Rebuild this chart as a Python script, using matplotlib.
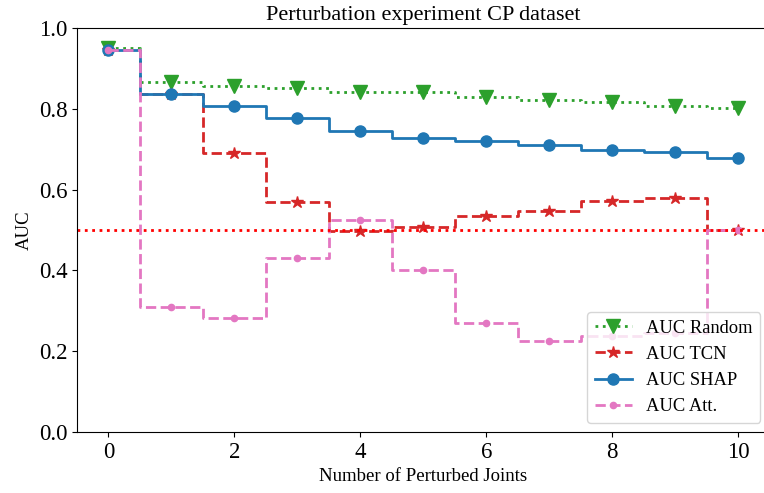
import matplotlib.pyplot as plt

plt.rcParams['font.family'] = ['Liberation Serif', 'DejaVu Serif']

# number of perturbed joints
joints = [0, 1, 2, 3, 4, 5, 6, 7, 8, 9, 10]

auc_random = [0.950, 0.866, 0.856, 0.852, 0.841, 0.841, 0.829, 0.822, 0.818, 0.806, 0.801]
auc_tcn = [0.945, 0.836, 0.691, 0.569, 0.498, 0.508, 0.535, 0.546, 0.571, 0.578, 0.501]
auc_shap = [0.945, 0.836, 0.807, 0.778, 0.745, 0.728, 0.721, 0.710, 0.698, 0.692, 0.678]
auc_att = [0.945, 0.310, 0.282, 0.431, 0.525, 0.400, 0.271, 0.226, 0.238, 0.245, 0.500]

chance = 0.5

fig = plt.figure(figsize=(7.64, 4.93), dpi=100)
ax = fig.add_axes([0.1008, 0.1237, 0.9064, 0.8195])

ax.step(joints, auc_random, where='mid', color='tab:green', linestyle=':', linewidth=2,
        marker='v', markersize=9.5, label='AUC Random')
ax.step(joints, auc_tcn, where='mid', color='tab:red', linestyle='--', linewidth=2,
        marker='*', markersize=9, label='AUC TCN')
ax.step(joints, auc_shap, where='mid', color='tab:blue', linestyle='-', linewidth=2,
        marker='o', markersize=8, label='AUC SHAP')
ax.step(joints, auc_att, where='mid', color='tab:pink', linestyle='--', linewidth=2,
        marker='o', markersize=4.5, label='AUC Att.')
ax.axhline(chance, color='red', linestyle=':', linewidth=2)

ax.set_ylim(0, 1.0)
ax.set_xlim(-0.5, 10.5)
ax.set_xticks([0, 2, 4, 6, 8, 10])
ax.set_yticks([0.0, 0.2, 0.4, 0.6, 0.8, 1.0])
ax.tick_params(labelsize=16.5)
ax.set_xlabel('Number of Perturbed Joints', fontsize=13.5)
ax.set_ylabel('AUC', fontsize=13.5)
ax.set_title('Perturbation experiment CP dataset', fontsize=16)
ax.legend(loc='lower right', fontsize=13.3)

fig.savefig('out.png', dpi=100)
